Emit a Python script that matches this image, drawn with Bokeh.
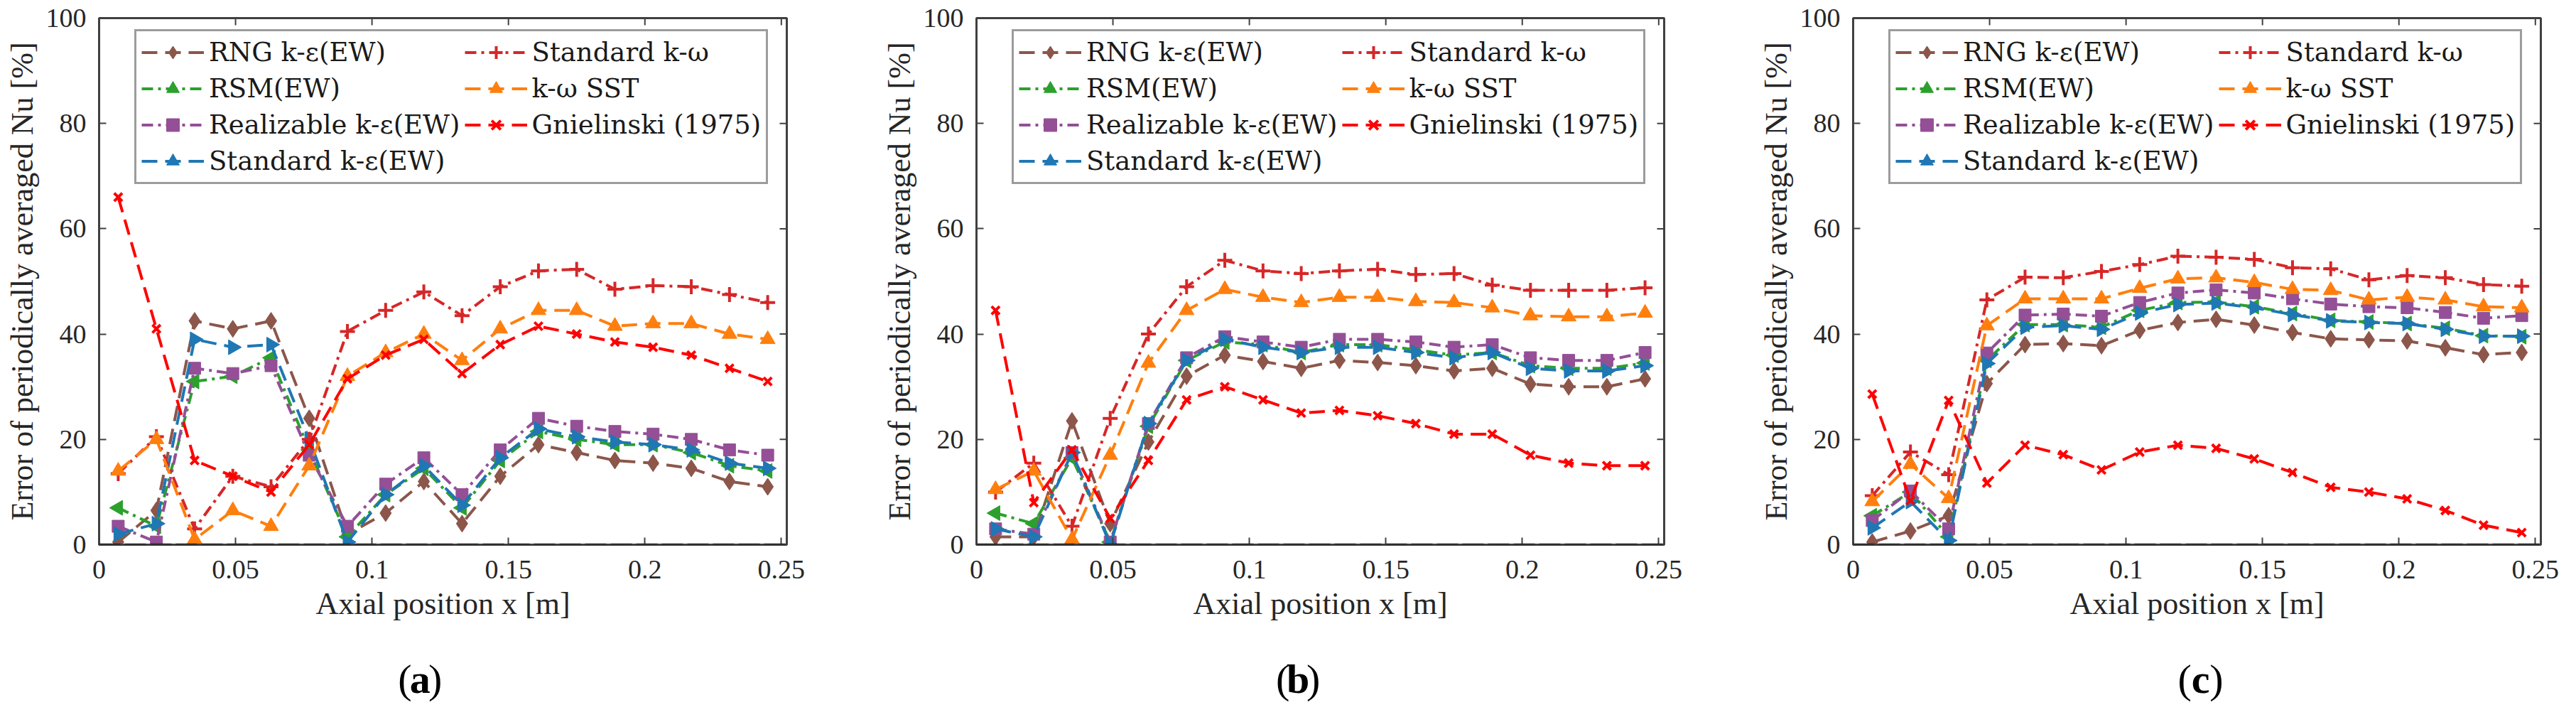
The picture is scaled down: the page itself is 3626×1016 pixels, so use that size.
from math import pi
from bokeh.plotting import figure
from bokeh.models import (Legend, LegendItem, Span, FixedTicker,
                          NumeralTickFormatter, Range1d)
from bokeh.layouts import row, column
from bokeh.core.properties import value
from bokeh.embed import file_html
from bokeh.resources import INLINE

# ---------------- data ----------------
XPOS = [0.007, 0.021, 0.035, 0.049, 0.063, 0.077, 0.091, 0.105, 0.119,
        0.133, 0.147, 0.161, 0.175, 0.189, 0.203, 0.217, 0.231, 0.245]

SERIES = ["RNG k-ε(EW)", "RSM(EW)", "Realizable k-ε(EW)", "Standard k-ε(EW)",
          "Standard k-ω", "k-ω SST", "Gnielinski (1975)"]

X_TICKS = [0, 0.05, 0.1, 0.15, 0.2, 0.25]
Y_TICKS = [0, 20, 40, 60, 80, 100]
PANEL_LETTERS = ["a", "b", "c"]

# panel (a)
A_RNG = [0.5, 6.5, 42.5, 41, 42.5, 24, 2, 6, 12, 4, 13, 19, 17.5, 16, 15.5, 14.5, 12, 11]
A_RSM = [7, 3.5, 31, 32, 35.5, 18, 1.5, 9.5, 14.5, 7, 16, 21.5, 20, 19, 19, 17.5, 15, 14]
A_REAL = [3.5, 0.5, 33.5, 32.5, 34, 17, 3.5, 11.5, 16.5, 9.5, 18, 24, 22.5, 21.5, 21, 20, 18, 17]
A_SKE = [2, 4, 39, 37.5, 38, 20, 0.5, 9.5, 15, 7.5, 16.5, 22, 20.5, 19.5, 19, 18, 15.5, 14.5]
A_SKW = [13.5, 20.5, 3, 13, 11, 20, 40.5, 44.5, 48, 43.5, 49, 52, 52.3, 48.5, 49.2, 49, 47.5, 46]
A_SST = [14, 20, 1, 6.5, 3.5, 15, 32, 36.5, 40, 35, 41, 44.5, 44.5, 41.5, 42, 42, 40, 39]
A_GNI = [66, 41, 16, 13, 10, 19, 31.5, 36, 39, 32.5, 38, 41.5, 40, 38.5, 37.5, 36, 33.5, 31]

# panel (b)
B_RNG = [1.5, 1.5, 23.5, 4, 19.5, 32, 36, 34.8, 33.5, 35, 34.6, 34, 33, 33.5, 30.5, 30, 30, 31.5]
B_RSM = [6, 4, 16.5, 0.5, 22.5, 35, 38.5, 38, 36.5, 38, 38, 37, 36, 36.5, 34, 33.5, 33.5, 34.5]
B_REAL = [3, 2, 17.5, 0.5, 23, 35.5, 39.5, 38.5, 37.5, 39, 39, 38.5, 37.5, 38, 35.5, 35, 35, 36.5]
B_SKE = [3, 1.5, 17.5, 0, 23, 35, 39, 37.5, 36.5, 37.5, 37.5, 36.5, 35.5, 36.5, 33.5, 33, 33, 34]
B_SKW = [10, 15.5, 3.5, 24, 40, 49, 54, 52, 51.5, 52, 52.3, 51.3, 51.5, 49.3, 48.3, 48.3, 48.3, 48.8]
B_SST = [10.5, 14, 1, 17, 34.5, 44.5, 48.5, 47, 46, 47, 47, 46.2, 46, 45, 43.5, 43.3, 43.3, 44]
B_GNI = [44.5, 8, 18, 5, 16, 27.5, 30, 27.5, 25, 25.5, 24.5, 23, 21, 21, 17, 15.5, 15, 15]

# panel (c)
C_RNG = [0.5, 2.6, 5.5, 30.6, 38, 38.2, 37.8, 40.7, 42.2, 42.8, 41.7, 40.3, 39.1, 38.9, 38.7, 37.4, 36.1, 36.5]
C_RSM = [5.5, 10, 1.5, 35, 41.8, 41.8, 41.3, 44.5, 46, 46.1, 45.2, 43.9, 42.6, 42.3, 42, 41.1, 39.7, 39.5]
C_REAL = [4.6, 10.2, 3, 36.4, 43.6, 43.8, 43.4, 46, 47.8, 48.4, 47.8, 46.7, 45.7, 45.2, 45, 44.1, 43, 43.5]
C_SKE = [3.2, 8.2, 0.8, 34.4, 41.3, 41.6, 40.9, 44, 45.6, 45.9, 45, 43.7, 42.5, 42.2, 42, 40.9, 39.6, 39.6]
C_SKW = [9.3, 17.6, 13.3, 46.5, 50.8, 50.7, 51.9, 53.2, 54.8, 54.6, 54.2, 52.6, 52.4, 50.3, 51.1, 50.7, 49.4, 49.1]
C_SST = [8.2, 15.3, 8.8, 41.6, 46.7, 46.7, 46.7, 48.7, 50.5, 50.7, 49.8, 48.5, 48.3, 46.5, 47, 46.5, 45.2, 45]
C_GNI = [28.6, 8.4, 27.4, 11.7, 18.9, 17.1, 14.2, 17.6, 18.9, 18.3, 16.3, 13.7, 10.9, 10, 8.7, 6.5, 3.7, 2.3]

PANELS = [
    [A_RNG, A_RSM, A_REAL, A_SKE, A_SKW, A_SST, A_GNI],
    [B_RNG, B_RSM, B_REAL, B_SKE, B_SKW, B_SST, B_GNI],
    [C_RNG, C_RSM, C_REAL, C_SKE, C_SKW, C_SST, C_GNI],
]

# ---------------- style ----------------
COLORS = ["#8c564b", "#2ca02c", "#944f96", "#1f77b4", "#d62728", "#ff7f0e", "#ff0000"]
DASH = "22 11"
DASHDOT = "16 7 4 7"
DASHES = [DASH, DASHDOT, DASHDOT, DASH, DASHDOT, DASH, DASH]
MARKERS = ["diamond", "triangle", "square", "triangle", "cross", "triangle", "x"]
ANGLES = [0, pi / 2, 0, -pi / 2, 0, 0, 0]
SIZES = [24, 21, 17, 21, 21, 21, 16]

TXT = "#262626"
AX = "#404040"
SERIF = "Liberation Serif"

X_MAX = 0.252
FIG_W = [1234, 1234, 1142]
LEFT_B = [139, 140, 140]
FRAME_W = 968
TOP_B = 25
FRAME_H = 741
BOT_B = 154
FIG_H = TOP_B + FRAME_H + BOT_B
LAB_H = 80
TICK_PX = 10

LEG_PAD = 7
LEG_ROW = 45
LEG_SP = 6
LEG_H = 2 * LEG_PAD + 4 * LEG_ROW + 3 * LEG_SP


def make_panel(k):
    data = PANELS[k]
    w = FIG_W[k]
    lb = LEFT_B[k]
    rb = w - lb - FRAME_W
    p = figure(width=w, height=FIG_H, x_range=Range1d(0, X_MAX), y_range=Range1d(0, 100),
               output_backend="svg", toolbar_location=None,
               min_border_left=lb, min_border_right=rb,
               min_border_top=TOP_B, min_border_bottom=BOT_B)
    p.grid.visible = False
    p.outline_line_color = AX
    p.outline_line_width = 3
    p.background_fill_color = "white"
    p.border_fill_color = "white"

    p.xaxis.ticker = FixedTicker(ticks=X_TICKS)
    p.yaxis.ticker = FixedTicker(ticks=Y_TICKS)
    p.xaxis.formatter = NumeralTickFormatter(format="0.[00]")
    p.xaxis.axis_label = "Axial position x [m]"
    p.yaxis.axis_label = "Error of periodically averaged Nu [%]"
    for ax in (p.xaxis[0], p.yaxis[0]):
        ax.axis_line_color = AX
        ax.axis_line_width = 3
        ax.major_tick_in = TICK_PX
        ax.major_tick_out = 0
        ax.major_tick_line_color = AX
        ax.major_tick_line_width = 2
        ax.minor_tick_line_color = None
        ax.major_label_text_font = SERIF
        ax.major_label_text_font_size = "38px"
        ax.major_label_text_color = TXT
        ax.axis_label_text_font = SERIF
        ax.axis_label_text_font_size = "44px"
        ax.axis_label_text_font_style = "normal"
        ax.axis_label_text_color = TXT
    p.xaxis.major_label_standoff = 22
    p.xaxis.axis_label_standoff = 8
    p.yaxis.major_label_standoff = 18
    p.yaxis.axis_label_standoff = 6

    # inward ticks on the top and right edges of the box
    dy = TICK_PX * 100.0 / FRAME_H
    dx = TICK_PX * X_MAX / FRAME_W
    p.segment(x0=X_TICKS, y0=[100] * len(X_TICKS), x1=X_TICKS,
              y1=[100 - dy] * len(X_TICKS), line_color=AX, line_width=2)
    p.segment(x0=[X_MAX] * len(Y_TICKS), y0=Y_TICKS, x1=[X_MAX - dx] * len(Y_TICKS),
              y1=Y_TICKS, line_color=AX, line_width=2)

    p.add_layout(Span(location=0, dimension="width", line_color="#262626",
                      line_width=3.5, line_dash="30 6"))

    items = []
    for i, ys in enumerate(data):
        c = COLORS[i]
        lr = p.line(XPOS, ys, line_color=c, line_width=4, line_dash=DASHES[i])
        sr = p.scatter(XPOS, ys, marker=MARKERS[i], size=SIZES[i], angle=ANGLES[i],
                       fill_color=c, line_color=c,
                       line_width=4 if MARKERS[i] in ("cross", "x") else 1)
        items.append(LegendItem(label=SERIES[i], renderers=[lr, sr]))

    leg = Legend(items=items, orientation="vertical", nrows=4,
                 location=(50, FRAME_H - 22 - LEG_H), margin=0,
                 padding=LEG_PAD, spacing=LEG_SP,
                 glyph_width=88, glyph_height=LEG_ROW, label_height=LEG_ROW,
                 label_standoff=7,
                 label_text_font="DejaVu Serif", label_text_font_size="37px",
                 label_text_color="#1a1a1a",
                 border_line_color="#3a3a3a", border_line_width=3,
                 background_fill_color="white", background_fill_alpha=1.0)
    p.add_layout(leg)

    # panel letter strip below the figure
    q = figure(width=w, height=LAB_H, x_range=Range1d(0, w), y_range=Range1d(0, LAB_H),
               x_axis_type=None, y_axis_type=None, output_backend="svg",
               toolbar_location=None, min_border=0, outline_line_color=None)
    q.grid.visible = False
    cx = lb + 437
    cy = LAB_H - 35
    q.text(x=[cx - 15], y=[cy], text=["("], text_align="right", text_baseline="middle",
           text_font=value(SERIF), text_font_size="58px", text_color="black")
    q.text(x=[cx], y=[cy], text=[PANEL_LETTERS[k]], text_align="center",
           text_baseline="middle", text_font=value(SERIF), text_font_style="bold",
           text_font_size="58px", text_color="black")
    q.text(x=[cx + 15], y=[cy], text=[")"], text_align="left", text_baseline="middle",
           text_font=value(SERIF), text_font_size="58px", text_color="black")
    return column(p, q, spacing=0)


panels = [make_panel(k) for k in range(3)]
layout = row(*panels, spacing=0)
open("out.html", "w").write(file_html(layout, INLINE))
